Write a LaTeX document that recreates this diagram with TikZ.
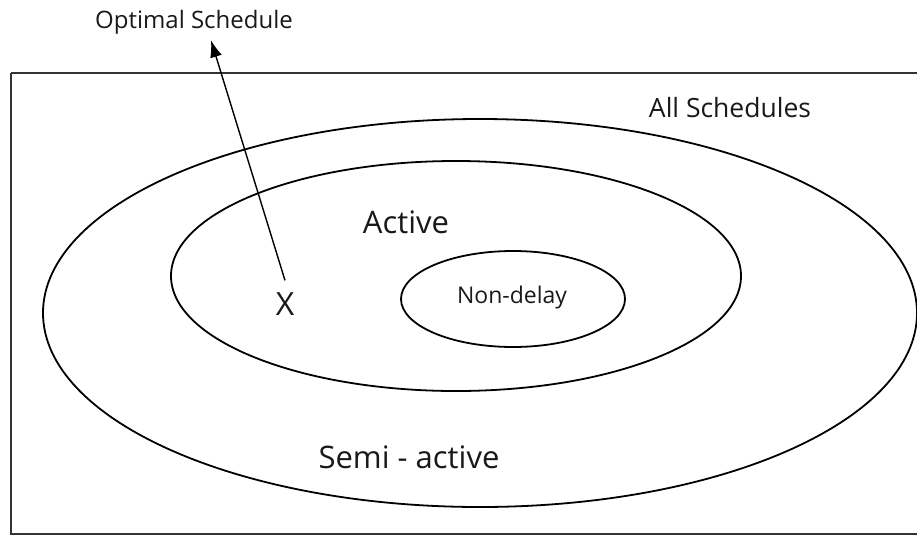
\documentclass[tikz,border=0pt]{standalone}
\usepackage{fontspec}
\setmainfont{Open Sans}
\usetikzlibrary{shapes.geometric,arrows.meta}

\tikzset{
  setring/.style={draw, ellipse, line width=1.8pt, inner sep=0pt},
  setlabel/.style={font=\fontsize{#1}{#1}\selectfont, text=black!90, inner sep=0pt},
}

\begin{document}
\begin{tikzpicture}[x=1pt, y=-1pt]

  % ---- page: 917 x 536 px ----
  \useasboundingbox (0,0) rectangle (917,536);

  % ---- frame (right side runs off the page) ----
  \draw[line width=2pt, black!80] (11,73) -- (930,73);
  \draw[line width=2pt, black!80] (11,73) -- (11,534) -- (930,534);

  % ---- nested sets ----
  \node[setring, minimum width=874pt, minimum height=388pt] (semi) at (480,313) {};
  \node[setring, minimum width=570pt, minimum height=230pt] (active) at (456,276) {};
  \node[setring, minimum width=224pt, minimum height=96pt] (nondelay) at (513,299) {};

  % ---- labels ----
  \node[setlabel=23] at (512,298) {Non-delay};
  \node[setlabel=26.5] (allsched) at (730,108) {All Schedules};
  \node[setlabel=31] (activelab) at (406,222) {Active};
  \node[setlabel=31] (semilab) at (409,457) {Semi - active};
  \node[setlabel=32] (xmark) at (285,304) {X};
  \node[setlabel=24] (optimal) at (194,22) {Optimal Schedule};

  % ---- pointer ----
  \draw[-{Latex[length=17pt,width=12pt]}, line width=1.4pt] ([yshift=12pt]xmark.north) -- ([xshift=17pt,yshift=-6pt]optimal.south);

\end{tikzpicture}
\end{document}
